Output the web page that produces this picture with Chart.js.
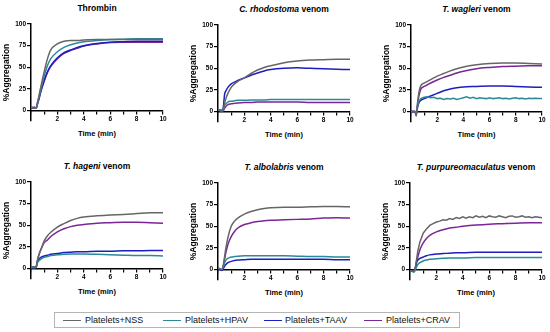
<!DOCTYPE html>
<html>
<head>
<meta charset="utf-8">
<script src="https://cdn.jsdelivr.net/npm/chart.js@4.4.1/dist/chart.umd.min.js"></script>
<style>
  body { margin: 0; background: #fff; width: 550px; height: 332px; position: relative; overflow: hidden;
         font-family: "Liberation Sans", Arial, sans-serif; }
  .ttl { position: absolute; width: 180px; text-align: center; font-weight: bold; font-size: 8.5px;
         line-height: 10px; white-space: nowrap; color: #000; }
  .xttl { position: absolute; width: 100px; text-align: center; font-weight: bold; font-size: 7.5px;
          line-height: 9px; white-space: nowrap; color: #000; }
  canvas { position: absolute; }
  #legend { position: absolute; left: 54px; top: 312px; width: 406px; height: 16px;
            border: 1px solid #b4b4b4; box-sizing: border-box; }
  .lg-line { position: absolute; top: 7px; width: 18px; height: 0; border-top: 1.5px solid; }
  .lg-text { position: absolute; top: 1px; font-size: 9px; line-height: 12px; color: #111; white-space: nowrap; }
</style>
</head>
<body>
<div id="legend"></div>
<script>
// time axis (min)
var time = [0, 0.3, 0.4, 0.5, 0.6, 0.75, 1, 1.25, 1.5, 2, 2.5, 3, 3.5, 4, 5, 6, 7, 8, 9, 10];
var timeFine = [0, 0.3, 0.4, 0.5, 0.6, 0.75, 1, 1.25, 1.5, 1.75, 2, 2.25, 2.5, 2.75, 3, 3.25, 3.5, 3.75,
  4, 4.25, 4.5, 4.75, 5, 5.25, 5.5, 5.75, 6, 6.25, 6.5, 6.75, 7, 7.25, 7.5, 7.75, 8, 8.25, 8.5, 8.75,
  9, 9.25, 9.5, 9.75, 10];

var xTicks = [0, 1, 2, 3, 4, 5, 6, 7, 8, 9, 10];
var yTicks = [0, 25, 50, 75, 100];

var seriesNames = ["Platelets+NSS", "Platelets+HPAV", "Platelets+TAAV", "Platelets+CRAV"];
var seriesColors = ["#666666", "#2a8a98", "#1e1ec0", "#7a2696"];

// %Aggregation, one array per panel / treatment
var thrombinNSS  = [3, 3, 3, 10, 17, 28, 45, 60, 70, 77, 80, 81, 81, 81.5, 82, 82, 82, 82, 82, 82];
var thrombinHPAV = [3, 3, 3, 9, 15, 25, 40, 52, 60, 68, 73, 76, 78, 79.5, 81, 82, 82.5, 83, 83, 83];
var thrombinTAAV = [3, 3, 3, 9, 14, 23, 35, 45, 52, 61, 67, 70, 73, 75, 77.5, 79, 79.5, 80, 80, 80];
var thrombinCRAV = [4, 4, 3, 8, 13, 22, 34, 44, 51, 60, 66, 69.5, 72, 74.5, 77, 78.5, 79, 79, 79, 79];

var rhodoNSS  = [2, 2, 3, 10, 15, 21, 28, 32, 35, 39, 44, 48, 51, 53, 56.5, 58.5, 59.5, 60, 60.5, 60.5];
var rhodoHPAV = [2, 1, 2, 7, 9, 11, 12, 12.5, 13, 13, 13.5, 13.5, 13.5, 14, 14, 14, 14, 14, 14, 14];
var rhodoTAAV = [2, 1, 5, 20, 24, 28, 32, 34, 36, 39, 42, 44.5, 47, 48.5, 50, 50.5, 50, 49.5, 49, 48.5];
var rhodoCRAV = [2, 0, 1, 4, 6, 8, 9, 9.5, 10, 10.5, 10.5, 11, 11, 11, 11, 11, 10.5, 10.5, 10.5, 10.5];

var wagleriNSS  = [0, 0, -3, 10, 22, 30, 33, 35, 37, 41, 44, 47, 49.5, 51.5, 54, 55.5, 56, 56, 55.5, 55];
var wagleriHPAV = [0, 0, -3, 6, 12, 15, 16.5, 17, 16, 16.5, 15, 15.5, 14, 15, 14.5, 15.5, 14, 15, 16, 17,
  15.5, 16.5, 15, 16, 15.5, 15, 16, 15, 15.5, 16, 15, 15.5, 14.5, 15.5, 16, 15, 15.5, 14.5, 15.5, 15,
  15.5, 15, 15];
var wagleriTAAV = [0, 0, -2, 5, 10, 13, 15, 16.5, 18, 21, 24, 26, 27.5, 28.5, 29, 29.5, 29.5, 29, 28.5, 28];
var wagleriCRAV = [0, 0, -5, 8, 18, 26, 29, 31, 33, 36.5, 39.5, 42, 44.5, 46.5, 49.5, 51, 52, 52.5, 53, 53];

var hageniNSS  = [2, 2, 3, 10, 16, 22, 32, 38, 42, 48, 52, 55.5, 58, 59.5, 61, 62, 62.5, 63.5, 64.5, 64.5];
var hageniHPAV = [1, 1, 2, 7, 9, 11, 13, 14, 15, 16, 16.5, 17, 17, 17, 16.5, 16, 15.5, 15, 15, 14.5];
var hageniTAAV = [1, 1, 2, 9, 11, 13, 14.5, 15.5, 16.5, 17.5, 18.5, 19, 19.5, 19.5, 20, 20, 20.5, 20.5, 21, 21];
var hageniCRAV = [2, 2, 2, 10, 16, 22, 30, 33, 37, 42.5, 46, 48.5, 50, 51, 52.5, 53, 53.5, 53.5, 53, 52.5];

var alboNSS  = [2, 0, 5, 15, 25, 37, 50, 56, 59.5, 64, 67, 69, 70.5, 71.5, 72, 72, 72.5, 73, 73, 72.5];
var alboHPAV = [2, 0, 3, 8, 11, 13, 14.5, 15, 15.5, 16, 16, 16, 16, 16, 16, 15.5, 15, 15, 14.5, 14.5];
var alboTAAV = [1, -1, 1, 4, 6, 8, 9.5, 10.5, 11, 11.5, 12, 12, 12, 12, 12, 12, 12, 12, 11.5, 11.5];
var alboCRAV = [2, 0, 4, 12, 20, 29, 38, 44, 48, 52, 54, 55.5, 56.5, 57, 57.5, 58, 58.5, 59.5, 60, 59.5];

var purpNSS  = [-1, -2, 2, 12, 22, 32, 42, 47, 51, 53, 55, 56, 57.5, 57, 59, 58, 60, 59, 61, 59.5,
  61, 60, 62, 60.5, 61.5, 60, 62, 61, 60.5, 62, 61, 60, 61.5, 62, 60.5, 61, 62, 60.5, 61, 60,
  61, 60.5, 60];
var purpHPAV = [-1, -3, -1, 3, 6, 8, 10, 11, 12, 12.5, 13, 13.5, 13.5, 13.5, 14, 14, 14, 14, 14, 14];
var purpTAAV = [-1, -2, 2, 9, 11, 13, 14.5, 16, 17, 18, 18.5, 19, 19.5, 19.5, 20, 20, 20, 20, 20, 20];
var purpCRAV = [-1, -2, 1, 8, 15, 23, 31, 36, 39.5, 43.5, 46, 48, 49, 50, 51.5, 52.5, 53, 53.5, 54, 54];

// panel layout: chart-area left/right, y=100 pixel, y=0 pixel
var panels = [
  { title: "Thrombin", L: 31, R: 163, T: 24, Z: 111,
    sets: [[time, thrombinNSS], [time, thrombinHPAV], [time, thrombinTAAV], [time, thrombinCRAV]] },
  { title: "<i>C. rhodostoma</i> venom", L: 218, R: 350, T: 25, Z: 112,
    sets: [[time, rhodoNSS], [time, rhodoHPAV], [time, rhodoTAAV], [time, rhodoCRAV]] },
  { title: "<i>T. wagleri</i> venom", L: 411, R: 542, T: 25, Z: 112,
    sets: [[time, wagleriNSS], [timeFine, wagleriHPAV, true], [time, wagleriTAAV], [time, wagleriCRAV]] },
  { title: "<i>T. hageni</i> venom", L: 31, R: 163, T: 182, Z: 269,
    sets: [[time, hageniNSS], [time, hageniHPAV], [time, hageniTAAV], [time, hageniCRAV]] },
  { title: "<i>T. albolabris</i> venom", L: 218, R: 350, T: 183, Z: 270,
    sets: [[time, alboNSS], [time, alboHPAV], [time, alboTAAV], [time, alboCRAV]] },
  { title: "<i>T. purpureomaculatus</i> venom", L: 410, R: 542, T: 183, Z: 270,
    sets: [[timeFine, purpNSS, true], [time, purpHPAV], [time, purpTAAV], [time, purpCRAV]] }
];

var Y_MIN = -12;

function pts(t, v) {
  return t.map(function (x, i) { return { x: x, y: v[i] }; });
}

function addText(cls, html, cx, top, halfW) {
  var d = document.createElement("div");
  d.className = cls;
  d.innerHTML = html;
  d.style.left = (cx - halfW) + "px";
  d.style.top = top + "px";
  document.body.appendChild(d);
}

panels.forEach(function (p) {
  addText("ttl", p.title, (p.L + p.R) / 2, p.T - 21, 90);
  addText("xttl", "Time (min)", (p.L + p.R) / 2, p.Z + 18, 50);

  var chartH = (p.Z - p.T) * (100 - Y_MIN) / 100;
  var cv = document.createElement("canvas");
  var w = p.R - p.L + 39, h = Math.round(6 + chartH + 5);
  cv.width = w; cv.height = h;
  cv.style.left = (p.L - 31) + "px";
  cv.style.top = (p.T - 6) + "px";
  cv.style.width = w + "px"; cv.style.height = h + "px";
  document.body.appendChild(cv);

  new Chart(cv, {
    type: "line",
    data: {
      datasets: p.sets.map(function (s, i) {
        return {
          label: seriesNames[i],
          data: pts(s[0], s[1]),
          borderColor: seriesColors[i],
          borderWidth: 1.5,
          pointRadius: 0,
          fill: false,
          cubicInterpolationMode: s[2] ? "default" : "monotone",
          tension: 0
        };
      })
    },
    options: {
      responsive: false,
      animation: false,
      layout: { padding: { top: 6, right: 8, left: 0, bottom: 5 } },
      plugins: { legend: { display: false }, tooltip: { enabled: false } },
      scales: {
        x: {
          type: "linear", min: 0, max: 10, position: { y: 0 },
          afterBuildTicks: function (s) { s.ticks = xTicks.map(function (v) { return { value: v }; }); },
          grid: { display: true, drawOnChartArea: false, drawTicks: true, tickLength: 3, color: "#000", lineWidth: 1.2 },
          border: { color: "#000", width: 1.5 },
          ticks: { color: "#000", font: { size: 6.5, weight: "bold" }, padding: 2, maxRotation: 0, autoSkip: false,
            callback: function (v) { return (v > 0 && v % 2 === 0) ? v : ""; } },
          title: { display: false }
        },
        y: {
          min: Y_MIN, max: 100,
          afterBuildTicks: function (s) { s.ticks = yTicks.map(function (v) { return { value: v }; }); },
          afterFit: function (s) { s.width = 31; },
          grid: { display: true, drawOnChartArea: false, drawTicks: true, tickLength: 4, color: "#000", lineWidth: 1.2 },
          border: { color: "#000", width: 1.5 },
          ticks: { color: "#000", font: { size: 6.5, weight: "bold" }, padding: 1 },
          title: { display: true, text: "%Aggregation", color: "#000", font: { size: 8.5, weight: "bold" }, padding: { top: 2, bottom: 0 } }
        }
      }
    }
  });
});

// legend
var lgLine = [8, 108, 209, 309];
var lgText = [30, 130, 230, 331];
var lg = document.getElementById("legend");
seriesNames.forEach(function (n, i) {
  var l = document.createElement("span");
  l.className = "lg-line";
  l.style.left = lgLine[i] + "px";
  l.style.borderTopColor = seriesColors[i];
  lg.appendChild(l);
  var tx = document.createElement("span");
  tx.className = "lg-text";
  tx.style.left = lgText[i] + "px";
  tx.textContent = n;
  lg.appendChild(tx);
});
</script>
</body>
</html>
